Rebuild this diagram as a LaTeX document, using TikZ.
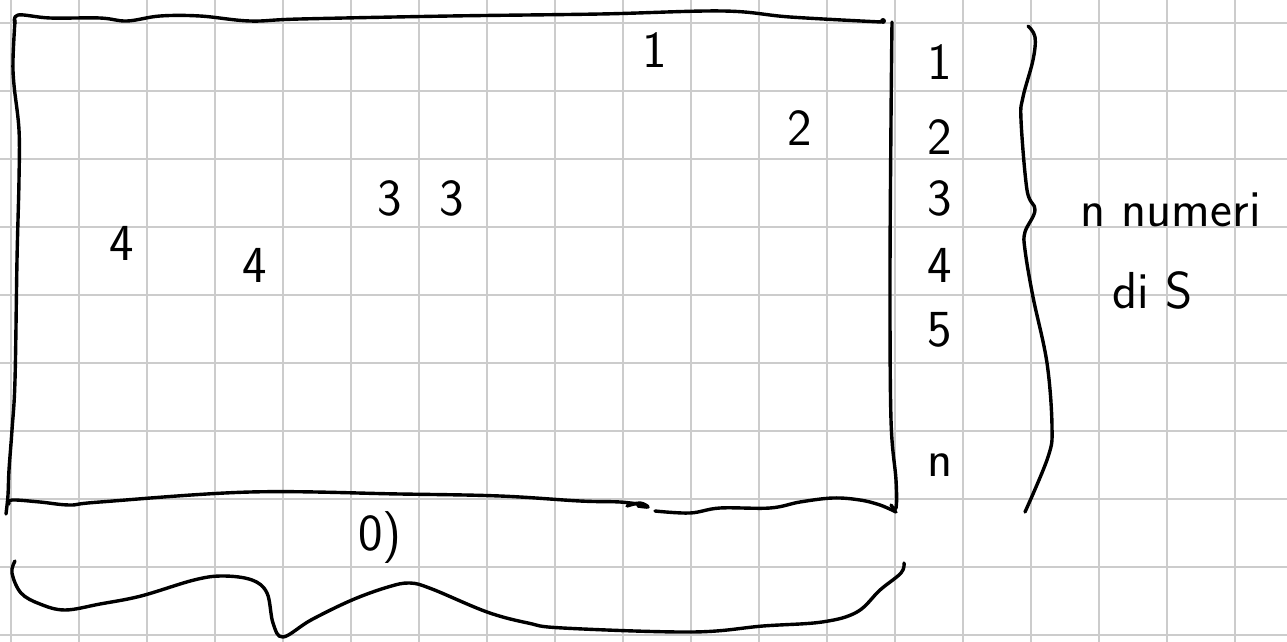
\documentclass[tikz,border=0pt]{standalone}
\begin{document}
\begin{tikzpicture}[x=1pt,y=-1pt,
  pen/.style={line width=3.4pt,line cap=round,line join=round,black},
  gridline/.style={line width=2pt,draw=black!20},
  hand/.style={font=\sffamily\fontsize{52}{52}\selectfont,inner sep=0pt,anchor=center},
  handsmall/.style={font=\sffamily\fontsize{52}{52}\selectfont,inner sep=0pt,anchor=center}]
\useasboundingbox (0,0) rectangle (1287,642);
\fill[white] (0,0) rectangle (1287,642);
\foreach \i in {0,...,18} \draw[gridline] ({11+68*\i},0) -- ({11+68*\i},642);
\foreach \j in {0,...,9} \draw[gridline] (0,{23+68*\j}) -- (1287,{23+68*\j});
% rectangle
\draw[pen] plot[smooth,tension=0.6] coordinates {(15,24)(18,15)(50,18)(100,18)(127,21)(160,16)(200,16)(250,21)(300,19)(450,16)(600,14)(723,11)(790,17)(881,22)};
\fill (883,21) circle (3pt);
\draw[pen] plot[smooth,tension=0.6] coordinates {(892,22)(891,120)(890,280)(891,420)(896,480)(896,508)(891,505)};
\draw[pen] plot[smooth,tension=0.6] coordinates {(15,20)(13,60)(14,85)(19,130)(19,180)(17,260)(15,380)(12,430)(9,470)(8,495)(6,514)};
\draw[pen] plot[smooth,tension=0.6] coordinates {(9,504)(12,500)(40,502)(70,505)(100,502)(250,492)(400,494)(500,496)(580,501)(620,502)(645,505)};
\draw[pen] plot[smooth,tension=0.6] coordinates {(627,506)(640,503)(648,507)(638,506)};
\draw[pen] plot[smooth,tension=0.6] coordinates {(655,511)(690,513)(720,508)(770,508)(800,502)(833,498)(860,500)(880,505)(896,512)};
% bottom brace
\draw[pen] plot[smooth,tension=0.6] coordinates {(15,561)(12,573)(21,593)(40,604)(65,610)(100,604)(141,596)(194,580)(223,576)(252,580)(267,593)(273,623)(283,637)(311,620)(352,600)(388,587)(410,583)(432,589)(487,612)(528,623)(563,628)(692,632)(763,626)(822,622)(857,612)(880,590)(901,573)(904,563)};
% right brace
\draw[pen] plot[smooth,tension=0.6] coordinates {(1028,26)(1035,37)(1033,60)(1023,97)(1021,120)(1027,190)(1035,210)(1025,232)(1025,250)(1033,297)(1047,363)(1052,427)(1048,457)(1025,512)};
% texts
\node[hand] (a1) at (655,50) {1};
\node[hand] (a2) at (800,128) {2};
\node[hand] (a3) at (390,198) {3};
\node[hand] (a4) at (452,198) {3};
\node[hand] (a5) at (122,243) {4};
\node[hand] (a6) at (255,265) {4};
\node[hand] (r1) at (940,62) {1};
\node[hand] (r2) at (940,137) {2};
\node[hand] (r3) at (940,198) {3};
\node[hand] (r4) at (940,265) {4};
\node[hand] (r5) at (940,330) {5};
\node[hand] (rn) at (940,465) {n};
\node[hand] (zero) at (380,538) {0)};
\node[handsmall,anchor=base west] (nn) at (1080,226) {n numeri};
\node[handsmall,anchor=base west] (dis) at (1112,308) {di S};
\end{tikzpicture}
\end{document}
